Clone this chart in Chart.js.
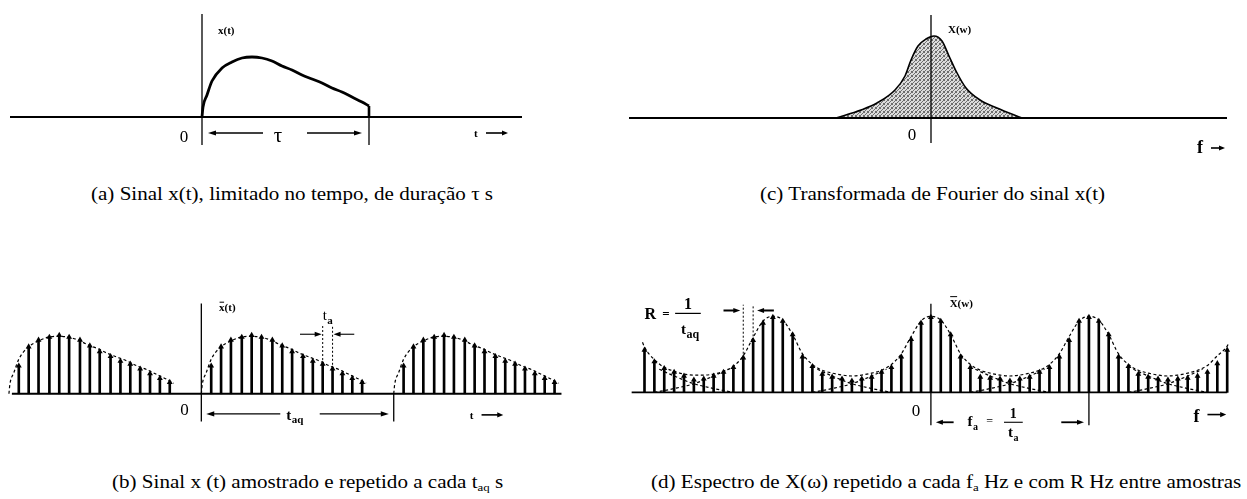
<!DOCTYPE html>
<html>
<head>
<meta charset="utf-8">
<script src="https://cdn.jsdelivr.net/npm/chart.js@4/dist/chart.umd.min.js"></script>
<style>
  body { margin: 0; background: #fff; width: 1247px; height: 499px; position: relative; overflow: hidden; color: #000; }
  canvas { position: absolute; }
  .cap { position: absolute; font-family: "Liberation Serif", "DejaVu Serif", serif; font-size: 18px; line-height: 20px;
         white-space: nowrap; transform: scaleX(1.17); transform-origin: left top; }
  .cap sub { font-size: 11px; vertical-align: -3px; line-height: 0; }
</style>
</head>
<body>
<canvas id="ca" width="600" height="170" style="left:0;top:0"></canvas>
<canvas id="cc" width="647" height="170" style="left:600px;top:0"></canvas>
<canvas id="cb" width="600" height="200" style="left:0;top:240px"></canvas>
<canvas id="cd" width="647" height="220" style="left:600px;top:240px"></canvas>

<div class="cap" style="left:91px;top:184px">(a) Sinal x(t), limitado no tempo, de duração τ s</div>
<div class="cap" style="left:760px;top:184px">(c) Transformada de Fourier do sinal x(t)</div>
<div class="cap" style="left:112px;top:472px">(b) Sinal x (t) amostrado e repetido a cada t<sub>aq</sub> s</div>
<div class="cap" style="left:651px;top:472px">(d) Espectro de X(ω) repetido a cada f<sub>a</sub> Hz e com R Hz entre amostras</div>

<script>
// time in units of the sampling step t_a, amplitudes in plot units

// pulse x(t), 0 <= t <= tau
const pulseT = [0, 0.1, 0.5, 1, 2, 3, 4, 5, 6, 7, 8, 9, 10, 11, 12, 13, 14, 15, 16, 16.7];
const pulseX = [0, 10, 22, 36, 49, 55, 59, 60, 59, 56, 51, 47, 42, 38, 34, 29, 25, 20, 15, 11];
const tau = 16.7;

// samples of x(t) (one period of the repeated signal)
const sampT = [1, 2, 3, 4.1, 5.1, 6.1, 7.2, 8.2, 9.2, 10.3, 11.3, 12.3, 13.3, 14.3, 15.3, 16.3];
const sampX = [29, 49, 56, 59, 61, 59, 56, 50, 44, 39, 34, 31, 26, 21, 16, 12];
const tAq = 19.5;
const copiesT = [-tAq, 0, tAq];

// X(w), spectrum of the pulse
const specF = [-9.5, -7.0, -5.4, -3.6, -2.6, -2.0, -1.3, -0.5, 0.3, 1.1, 1.8, 2.5, 3.5, 4.9, 6.6, 9.1];
const specX = [0, 8, 15, 28, 42, 58, 72, 79, 82, 77, 62, 47, 30, 18, 10, 0];

// spectrum lines, spaced R = 1/t_aq (index k)
const lineK = [-29, -28, -27, -26, -25, -24, -23, -22, -21, -20, -19, -18, -17, -16, -15, -14, -13, -12, -11, -10,
               -9, -8, -7, -6, -5, -4, -3, -2, -1, 0, 1, 2, 3, 4, 5, 6, 7, 8, 9, 10,
               11, 12, 13, 14, 15, 16, 17, 18, 19, 20, 21, 22, 23, 24, 25, 26, 27, 28, 29, 30];
const lineX = [44, 32, 25, 21, 17, 13, 14, 17, 21, 26, 36, 54, 72, 78, 74, 60, 37, 27, 19, 16,
               14, 12, 14, 16, 21, 26, 37, 55, 72, 78, 74, 60, 37, 26, 16, 15, 14, 12, 14, 16,
               21, 26, 37, 54, 74, 78, 74, 60, 37, 27, 19, 16, 14, 13, 14, 15, 17, 21, 30, 44];

// periodic spectrum envelope
const envK = [-29.2, -29, -28, -27, -26, -25, -24, -23, -22, -21, -20, -19, -18, -17, -16, -15, -14, -13, -12, -11,
              -10, -9, -8, -7, -6, -5, -4, -3, -2, -1, 0, 1, 2, 3, 4, 5, 6, 7, 8, 9,
              10, 11, 12, 13, 14, 15, 16, 17, 18, 19, 20, 21, 22, 23, 24, 25, 26, 27, 28, 29, 30, 30.2];
const envX = [52, 47, 34, 26, 22, 19, 18, 18, 19, 22, 27, 38, 57, 74, 79, 75, 60, 40, 29, 23,
              20, 18, 17, 18, 20, 23, 29, 40, 58, 74, 79, 75, 60, 40, 29, 23, 20, 18, 17, 18,
              20, 23, 29, 40, 58, 74, 79, 75, 60, 40, 29, 23, 20, 18, 17, 18, 20, 23, 28, 38, 48, 52];

// tails of the single shifted spectra (distance from centre, height)
const tailD = [4.5, 6, 8, 10, 12];
const tailX = [24, 17, 9, 4, 0];
const fA = 16;
const centres = [-2 * fA, -fA, 0, fA, 2 * fA];

const pts = (xs, ys, dx = 0) => xs.map((v, i) => ({ x: dx + v, y: ys[i] }));
const mirror = (xs, ys, c) => xs.map((v, i) => ({ x: c - v, y: ys[i] })).reverse();

// axes, ticks, arrows and labels on top of the data
const marks = {
  id: 'marks',
  afterDatasetsDraw(chart, args, opts) {
    const { ctx, scales: { x, y } } = chart;
    const px = v => x.getPixelForValue(v);
    const py = v => y.getPixelForValue(v);
    ctx.save();
    ctx.strokeStyle = '#000';
    ctx.fillStyle = '#000';
    (opts.lines || []).forEach(l => {
      ctx.lineWidth = l.w || 1.5;
      ctx.setLineDash(l.dash || []);
      ctx.beginPath();
      ctx.moveTo(px(l.x1), py(l.y1));
      ctx.lineTo(px(l.x2), py(l.y2));
      ctx.stroke();
    });
    ctx.setLineDash([]);
    (opts.arrows || []).forEach(a => {
      const x1 = px(a.x1), x2 = px(a.x2), yy = py(a.y);
      const d = Math.sign(x2 - x1);
      const hl = a.head || 8;
      ctx.lineWidth = a.w || 1.4;
      ctx.beginPath();
      ctx.moveTo(x1, yy);
      ctx.lineTo(x2 - d * hl * 0.6, yy);
      ctx.stroke();
      ctx.beginPath();
      ctx.moveTo(x2, yy);
      ctx.lineTo(x2 - d * hl, yy - 2.6);
      ctx.lineTo(x2 - d * hl, yy + 2.6);
      ctx.closePath();
      ctx.fill();
    });
    (opts.texts || []).forEach(t => {
      ctx.font = t.font;
      ctx.textAlign = t.align || 'left';
      ctx.textBaseline = 'alphabetic';
      const X = px(t.x), Y = py(t.y);
      ctx.fillText(t.text, X, Y);
      const w = ctx.measureText(t.text).width;
      const left = t.align === 'center' ? X - w / 2 : X;
      if (t.over) {
        const cw = ctx.measureText(t.text[0]).width;
        ctx.lineWidth = 1;
        ctx.beginPath();
        ctx.moveTo(left + 0.5, Y - t.over);
        ctx.lineTo(left + cw - 0.5, Y - t.over);
        ctx.stroke();
      }
      if (t.sub) {
        ctx.font = t.subFont;
        ctx.textAlign = 'left';
        ctx.fillText(t.sub, left + w + 0.5, Y + (t.subDy || 4));
      }
    });
    ctx.restore();
  }
};

function panel(id, xr, yr, datasets, opts) {
  return new Chart(document.getElementById(id), {
    type: 'scatter',
    data: { datasets },
    options: {
      responsive: false,
      animation: false,
      events: [],
      layout: { padding: 0 },
      scales: {
        x: { type: 'linear', display: false, offset: false, grid: { offset: false }, min: xr[0], max: xr[1] },
        y: { type: 'linear', display: false, min: yr[0], max: yr[1] }
      },
      plugins: { legend: { display: false }, tooltip: { enabled: false }, marks: opts }
    },
    plugins: [marks]
  });
}

const curve = (data, extra) => Object.assign({
  type: 'line', data, borderColor: '#000', borderWidth: 1.2, borderDash: [3, 2.5],
  pointRadius: 0, fill: false, cubicInterpolationMode: 'monotone'
}, extra || {});

const stems = data => [
  { type: 'bar', data, backgroundColor: '#000', barThickness: 2, grouped: false },
  { type: 'scatter', data, pointStyle: 'triangle', pointRadius: 3.4, backgroundColor: '#000', borderWidth: 0 }
];

const serif = '"Liberation Serif", "Times New Roman", serif';

// (a) x(t)
panel('ca', [-20.2, 39.8], [-53, 117], [
  curve(pts(pulseT, pulseX), { borderWidth: 2.8, borderDash: [] })
], {
  lines: [
    { x1: -19.2, y1: 0, x2: 32, y2: 0, w: 1.8 },
    { x1: 0, y1: -28, x2: 0, y2: 103, w: 1.3 },
    { x1: tau, y1: pulseX[pulseX.length - 1], x2: tau, y2: 0, w: 2.6 },
    { x1: tau, y1: 0, x2: tau, y2: -28, w: 1.3 }
  ],
  arrows: [
    { x1: 6.1, x2: 0.6, y: -16 },
    { x1: 10.5, x2: 16.0, y: -16 },
    { x1: 28.4, x2: 30.6, y: -16, head: 6, w: 1.6 }
  ],
  texts: [
    { text: 'x(t)', x: 1.6, y: 83, font: 'bold 11px ' + serif },
    { text: '0', x: -1.8, y: -25, font: '17px ' + serif, align: 'center' },
    { text: 'τ', x: 7.6, y: -25, font: '21px ' + serif, align: 'center' },
    { text: 't', x: 27.2, y: -20, font: 'bold 11px ' + serif }
  ]
});

// (c) X(w)
const ctxC = document.getElementById('cc').getContext('2d');
const dots = document.createElement('canvas');
dots.width = 4; dots.height = 4;
const dg = dots.getContext('2d');
dg.fillStyle = '#dcdcdc';
dg.fillRect(0, 0, 4, 4);
dg.fillStyle = '#6e6e6e';
[[0, 0], [2, 1], [1, 2], [3, 3], [3, 0], [0, 3]].forEach(([a, b]) => dg.fillRect(a, b, 1, 1));
const stipple = ctxC.createPattern(dots, 'repeat');

panel('cc', [-33.1, 31.6], [-52, 118], [
  curve(pts(specF, specX), { borderWidth: 1.6, borderDash: [], fill: 'origin', backgroundColor: stipple })
], {
  lines: [
    { x1: -30.2, y1: 0, x2: 29.6, y2: 0, w: 1.8 },
    { x1: 0, y1: -25, x2: 0, y2: 103, w: 1.3 }
  ],
  arrows: [
    { x1: 28.0, x2: 29.4, y: -30, head: 6, w: 1.6 }
  ],
  texts: [
    { text: 'X(w)', x: 1.7, y: 85, font: 'bold 11px ' + serif },
    { text: '0', x: -1.9, y: -22, font: '17px ' + serif, align: 'center' },
    { text: 'f', x: 26.6, y: -35, font: 'bold 18px ' + serif }
  ]
});

// (b) sampled and repeated x(t)
const setB = [];
copiesT.forEach(off => {
  setB.push(curve(pts(pulseT, pulseX, off)));
  setB.push(...stems(pts(sampT, sampX, off)));
});
panel('cb', [-20, 40], [-44, 156], setB, {
  lines: [
    { x1: -19.2, y1: 0, x2: 36.5, y2: 0, w: 1.8 },
    { x1: 0, y1: -29, x2: 0, y2: 94, w: 1.3 },
    { x1: tAq, y1: 0, x2: tAq, y2: -29, w: 1.3 },
    { x1: sampT[11], y1: sampX[11], x2: sampT[11], y2: 71, w: 1, dash: [2, 2] },
    { x1: sampT[12], y1: sampX[12], x2: sampT[12], y2: 71, w: 1, dash: [2, 2] }
  ],
  arrows: [
    { x1: 8.0, x2: 0.5, y: -21 },
    { x1: 12.0, x2: 19.0, y: -21 },
    { x1: 10.0, x2: 12.2, y: 62, head: 7, w: 1.1 },
    { x1: 15.5, x2: 13.4, y: 62, head: 7, w: 1.1 },
    { x1: 28.4, x2: 30.6, y: -22, head: 6, w: 1.6 }
  ],
  texts: [
    { text: 'x(t)', x: 1.8, y: 86, font: 'bold 11px ' + serif, over: 9 },
    { text: '0', x: -1.7, y: -22, font: '17px ' + serif, align: 'center' },
    { text: 't', x: 8.6, y: -27, font: 'bold 15px ' + serif, sub: 'aq', subFont: 'bold 11px ' + serif, subDy: 3 },
    { text: 't', x: 12.3, y: 77, font: '15px ' + serif, sub: 'a', subFont: 'bold 11px ' + serif, subDy: 4 },
    { text: 't', x: 27.2, y: -26, font: 'bold 11px ' + serif }
  ]
});

// (d) sampled spectrum, repeated every f_a
const setD = [curve(pts(envK, envX))];
centres.forEach(c => {
  setD.push(curve(pts(tailD, tailX, c)));
  setD.push(curve(mirror(tailD, tailX, c)));
});
setD.push(...stems(pts(lineK, lineX)));
const kOf = v => lineK.indexOf(v);
panel('cd', [-33.1, 31.6], [-66, 154], setD, {
  lines: [
    { x1: -30.3, y1: 0, x2: 30.0, y2: 0, w: 1.8 },
    { x1: 0, y1: -34, x2: 0, y2: 92, w: 1.3 },
    { x1: fA, y1: lineX[kOf(fA)], x2: fA, y2: -34, w: 1.3 },
    { x1: -19, y1: lineX[kOf(-19)], x2: -19, y2: 91, w: 1, dash: [2, 2] },
    { x1: -18, y1: lineX[kOf(-18)], x2: -18, y2: 91, w: 1, dash: [2, 2] },
    { x1: -25.9, y1: 82, x2: -23.3, y2: 82, w: 1.2 },
    { x1: 7.4, y1: -31, x2: 9.3, y2: -31, w: 1.1 }
  ],
  arrows: [
    { x1: -21.0, x2: -19.3, y: 85, head: 7, w: 2 },
    { x1: -15.9, x2: -17.6, y: 85, head: 7, w: 2 },
    { x1: 2.3, x2: 0.5, y: -31, head: 7, w: 1.8 },
    { x1: 13.2, x2: 15.5, y: -31, head: 7, w: 1.8 },
    { x1: 28.0, x2: 29.9, y: -23, head: 6, w: 1.6 }
  ],
  texts: [
    { text: 'X(w)', x: 1.9, y: 89, font: 'bold 11px ' + serif, over: 10 },
    { text: '0', x: -1.5, y: -24, font: '17px ' + serif, align: 'center' },
    { text: 'f', x: 26.6, y: -31, font: 'bold 18px ' + serif },
    { text: 'R', x: -29.0, y: 76, font: 'bold 16px ' + serif },
    { text: '=', x: -27.2, y: 77, font: 'bold 13px ' + serif },
    { text: '1', x: -24.6, y: 87, font: 'bold 16px ' + serif, align: 'center' },
    { text: 't', x: -25.3, y: 61, font: 'bold 15px ' + serif, sub: 'aq', subFont: 'bold 12px ' + serif, subDy: 4 },
    { text: 'f', x: 3.7, y: -35, font: 'bold 15px ' + serif, sub: 'a', subFont: 'bold 10px ' + serif, subDy: 4 },
    { text: '=', x: 5.6, y: -34, font: '12px ' + serif },
    { text: '1', x: 8.35, y: -27, font: 'bold 14px ' + serif, align: 'center' },
    { text: 't', x: 7.8, y: -46, font: 'bold 15px ' + serif, sub: 'a', subFont: 'bold 10px ' + serif, subDy: 4 }
  ]
});
</script>
</body>
</html>
